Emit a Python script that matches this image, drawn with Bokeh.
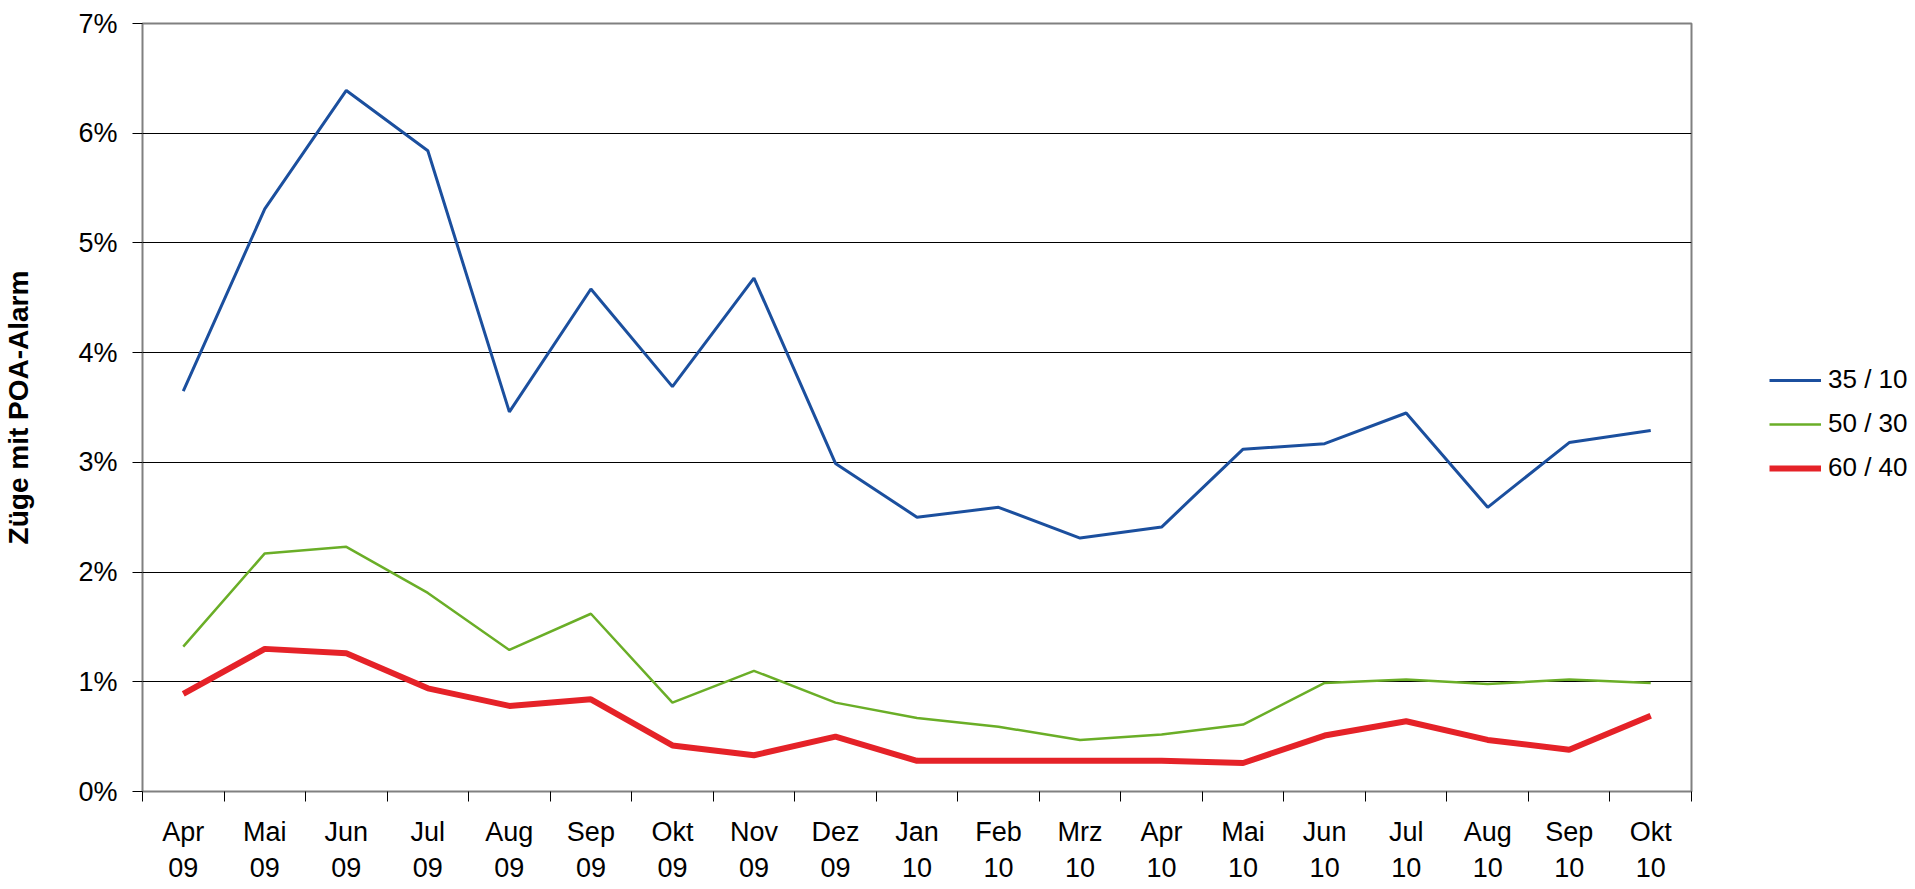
from bokeh.plotting import figure
from bokeh.layouts import row
from bokeh.models import Range1d, FixedTicker, NumeralTickFormatter, Legend, LegendItem
from bokeh.embed import file_html
from bokeh.resources import INLINE

months = ["Apr\n09", "Mai\n09", "Jun\n09", "Jul\n09", "Aug\n09", "Sep\n09", "Okt\n09",
          "Nov\n09", "Dez\n09", "Jan\n10", "Feb\n10", "Mrz\n10", "Apr\n10", "Mai\n10",
          "Jun\n10", "Jul\n10", "Aug\n10", "Sep\n10", "Okt\n10"]

s35_10 = [3.65, 5.31, 6.39, 5.84, 3.46, 4.58, 3.69, 4.68, 2.99, 2.50, 2.59, 2.31, 2.41,
          3.12, 3.17, 3.45, 2.59, 3.18, 3.29]
s50_30 = [1.32, 2.17, 2.23, 1.81, 1.29, 1.62, 0.81, 1.10, 0.81, 0.67, 0.59, 0.47, 0.52,
          0.61, 0.99, 1.02, 0.98, 1.02, 0.99]
s60_40 = [0.89, 1.30, 1.26, 0.94, 0.78, 0.84, 0.42, 0.33, 0.50, 0.28, 0.28, 0.28, 0.28,
          0.26, 0.51, 0.64, 0.47, 0.38, 0.69]

series_names = ["35 / 10", "50 / 30", "60 / 40"]
series_data = [s35_10, s50_30, s60_40]
y_ticks = [0, 1, 2, 3, 4, 5, 6, 7]

COLORS = ["#1B4F9E", "#6AAE27", "#E52228"]
WIDTHS = [3, 2.5, 6]
FONT = "Liberation Sans"
H = 885
n = len(months)
xs = [i + 0.5 for i in range(n)]

p = figure(width=1699, height=H, output_backend="svg", toolbar_location=None,
           x_range=Range1d(0, n), y_range=Range1d(0, 0.07),
           min_border_left=140, min_border_right=8, min_border_top=23, min_border_bottom=93)
p.background_fill_color = "white"
p.border_fill_color = "white"
p.outline_line_color = "#808080"
p.outline_line_width = 2

for data, c, w in zip(series_data, COLORS, WIDTHS):
    p.line(xs, [v / 100 for v in data], line_color=c, line_width=w)

# x axis: labels centred on months, tick marks on month boundaries
xa = p.xaxis[0]
xa.ticker = FixedTicker(ticks=xs, minor_ticks=list(range(n + 1)))
xa.major_label_overrides = {x: m for x, m in zip(xs, months)}
xa.major_tick_out = 0
xa.major_tick_in = 0
xa.minor_tick_out = 10
xa.minor_tick_in = 0
xa.minor_tick_line_color = "black"
xa.axis_line_color = None
xa.major_label_text_font = FONT
xa.major_label_text_font_size = "27px"
xa.major_label_text_color = "black"
xa.major_label_text_line_height = 1.2
xa.major_label_standoff = 15
p.xgrid.visible = False

# y axis
ya = p.yaxis[0]
ya.ticker = FixedTicker(ticks=[t / 100 for t in y_ticks], minor_ticks=[])
ya.formatter = NumeralTickFormatter(format="0%")
ya.major_tick_out = 10
ya.major_tick_in = 0
ya.major_tick_line_color = "black"
ya.axis_line_color = None
ya.major_label_text_font = FONT
ya.major_label_text_font_size = "27px"
ya.major_label_text_color = "black"
ya.major_label_standoff = 15
ya.axis_label = "Züge mit POA-Alarm"
ya.axis_label_text_font = FONT
ya.axis_label_text_font_size = "28px"
ya.axis_label_text_font_style = "bold"
ya.axis_label_text_color = "black"
ya.axis_label_standoff = 41
p.ygrid.grid_line_color = "black"
p.ygrid.grid_line_width = 1
p.ygrid.ticker = FixedTicker(ticks=[t / 100 for t in y_ticks[1:-1]])

# legend panel to the right of the chart (its series lie outside its own view)
lg = figure(width=214, height=H, output_backend="svg", toolbar_location=None,
            x_range=Range1d(100, 101), y_range=Range1d(0, 0.07),
            x_axis_type=None, y_axis_type=None,
            min_border_left=70, min_border_right=0, min_border_top=23, min_border_bottom=93)
lg.outline_line_color = None
lg.background_fill_alpha = 0
lg.border_fill_color = "white"
lg.xgrid.visible = False
lg.ygrid.visible = False
items = []
for name, data, c, w in zip(series_names, series_data, COLORS, WIDTHS):
    r = lg.line(xs, [v / 100 for v in data], line_color=c, line_width=w)
    items.append(LegendItem(label=name, renderers=[r]))
legend = Legend(items=items, location=(0, 308), padding=0, margin=0, spacing=13,
                glyph_width=52, glyph_height=30, label_height=30, label_standoff=7,
                border_line_color=None, background_fill_alpha=0)
legend.label_text_font = FONT
legend.label_text_font_size = "26px"
legend.label_text_color = "black"
lg.add_layout(legend, "center")

layout = row(p, lg, spacing=0)
open("out.html", "w").write(file_html(layout, INLINE))
